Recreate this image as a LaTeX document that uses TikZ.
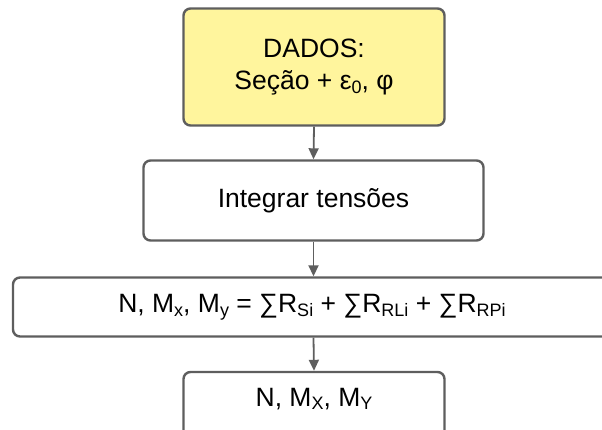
\documentclass[tikz,border=0pt]{standalone}
\usepackage{fontspec}
\setmainfont{Liberation Sans}
\usetikzlibrary{arrows.meta}
\definecolor{edgegray}{HTML}{5E5E5E}
\definecolor{datafill}{HTML}{FFF59D}
\newcommand{\lowidx}[1]{\raisebox{-0.14em}{\fontsize{18}{18}\selectfont #1}}
\tikzset{
  stepbox/.style={draw=edgegray, line width=2.4pt, rounded corners=7pt, fill=white,
    inner sep=0pt, align=center, font=\fontsize{26.5}{32}\selectfont},
  flow/.style={draw=edgegray, line width=1.8pt, -{Triangle[length=11pt,width=10pt]}},
  plaintext/.style={inner sep=0pt, font=\fontsize{26.5}{32}\selectfont}
}
\begin{document}
\begin{tikzpicture}[x=1pt, y=-1pt]
  \useasboundingbox (0,0) rectangle (602,430);
  \clip (0,0) rectangle (602,430);
  % input data
  \node[stepbox, fill=datafill, minimum width=261pt, minimum height=117pt] (dados) at (314,67)
    {DADOS:\\Seção + ε\lowidx{0}, φ};
  % integration step
  \node[stepbox, minimum width=340pt, minimum height=80pt] (integ) at (313.5,200.5)
    {Integrar tensões};
  % resultant sum (box runs past the right edge)
  \node[stepbox, minimum width=606pt, minimum height=59pt] (soma) at (316,307) {};
  \node[plaintext] (somatxt) at (312,307)
    {N, M\lowidx{x}, M\lowidx{y} = ∑R\lowidx{Si} + ∑R\lowidx{RLi} + ∑R\lowidx{RPi}};
  % output (box runs past the bottom edge)
  \node[stepbox, minimum width=261pt, minimum height=80pt] (saida) at (314,412) {};
  \node[plaintext] (saidatxt) at (314,399) {N, M\lowidx{X}, M\lowidx{Y}};
  % connectors
  \draw[flow] (dados.south) -- (integ.north);
  \draw[flow] (integ.south) -- (integ.south |- soma.north);
  \draw[flow] (integ.south |- soma.south) -- (saida.north);
\end{tikzpicture}
\end{document}
